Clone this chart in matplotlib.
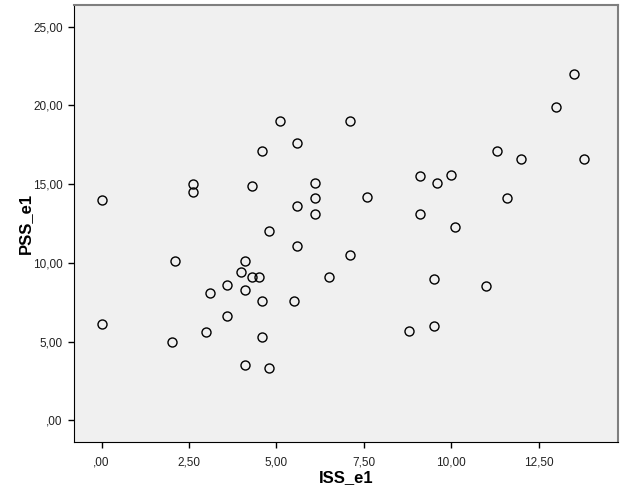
import matplotlib
matplotlib.use("Agg")
import matplotlib.pyplot as plt

# ISS_e1 vs PSS_e1
iss = [0.0, 2.6, 2.6, 4.3, 4.6, 5.1, 5.6, 5.6, 6.1, 6.1, 6.1, 4.8, 5.6,
       7.1, 7.6, 9.1, 9.1, 9.6, 10.0, 10.1, 11.3, 11.6, 12.0, 13.0, 13.5, 13.8,
       2.1, 4.1, 4.0, 4.3, 4.5, 3.6, 3.1, 4.1, 4.6, 5.5, 3.6, 0.0, 3.0, 2.0,
       4.6, 4.1, 4.8,
       7.1, 6.5, 9.5, 11.0, 8.8, 9.5]
pss = [14.0, 15.0, 14.5, 14.9, 17.1, 19.0, 17.6, 13.6, 15.1, 14.1, 13.1, 12.0, 11.1,
       19.0, 14.2, 15.5, 13.1, 15.1, 15.6, 12.3, 17.1, 14.1, 16.6, 19.9, 22.0, 16.6,
       10.1, 10.1, 9.4, 9.1, 9.1, 8.6, 8.1, 8.3, 7.6, 7.6, 6.6, 6.1, 5.6, 5.0,
       5.3, 3.5, 3.3,
       10.5, 9.1, 9.0, 8.5, 5.7, 6.0]

xticks = [0, 2.5, 5, 7.5, 10, 12.5]
xticklabels = [",00", "2,50", "5,00", "7,50", "10,00", "12,50"]
yticks = [0, 5, 10, 15, 20, 25]
yticklabels = [",00", "5,00", "10,00", "15,00", "20,00", "25,00"]

plt.rcParams['font.family'] = ['Liberation Sans', 'DejaVu Sans']

fig = plt.figure(figsize=(6.26, 5.01), dpi=100)
ax = fig.add_axes([0.1182, 0.1184, 0.869, 0.8716])
ax.set_facecolor("#f0f0f0")

ax.plot(iss, pss, "o", ls="none", mfc="none", mec="black", ms=6.5, mew=1.0)

ax.set_xlim(-0.79, 14.77)
ax.set_ylim(-1.36, 26.38)
ax.set_xticks(xticks, xticklabels)
ax.set_yticks(yticks, yticklabels)
ax.tick_params(direction="out", length=4.5, width=1, labelsize=8.5,
               colors="black", labelcolor="#222222")
ax.tick_params(axis="x", pad=6)

for side in ["left", "bottom"]:
    ax.spines[side].set_color("black")
for side in ["top", "right"]:
    ax.spines[side].set_color("#7f7f7f")
    ax.spines[side].set_linewidth(1.5)

fig.text(346 / 626, 1 - 478 / 501, "ISS_e1", ha="center", va="center",
         fontsize=12, fontweight="bold")
fig.text(25 / 626, 1 - 223 / 501, "PSS_e1", ha="center", va="center",
         rotation=90, fontsize=12, fontweight="bold")

fig.savefig("out.png", dpi=100)
